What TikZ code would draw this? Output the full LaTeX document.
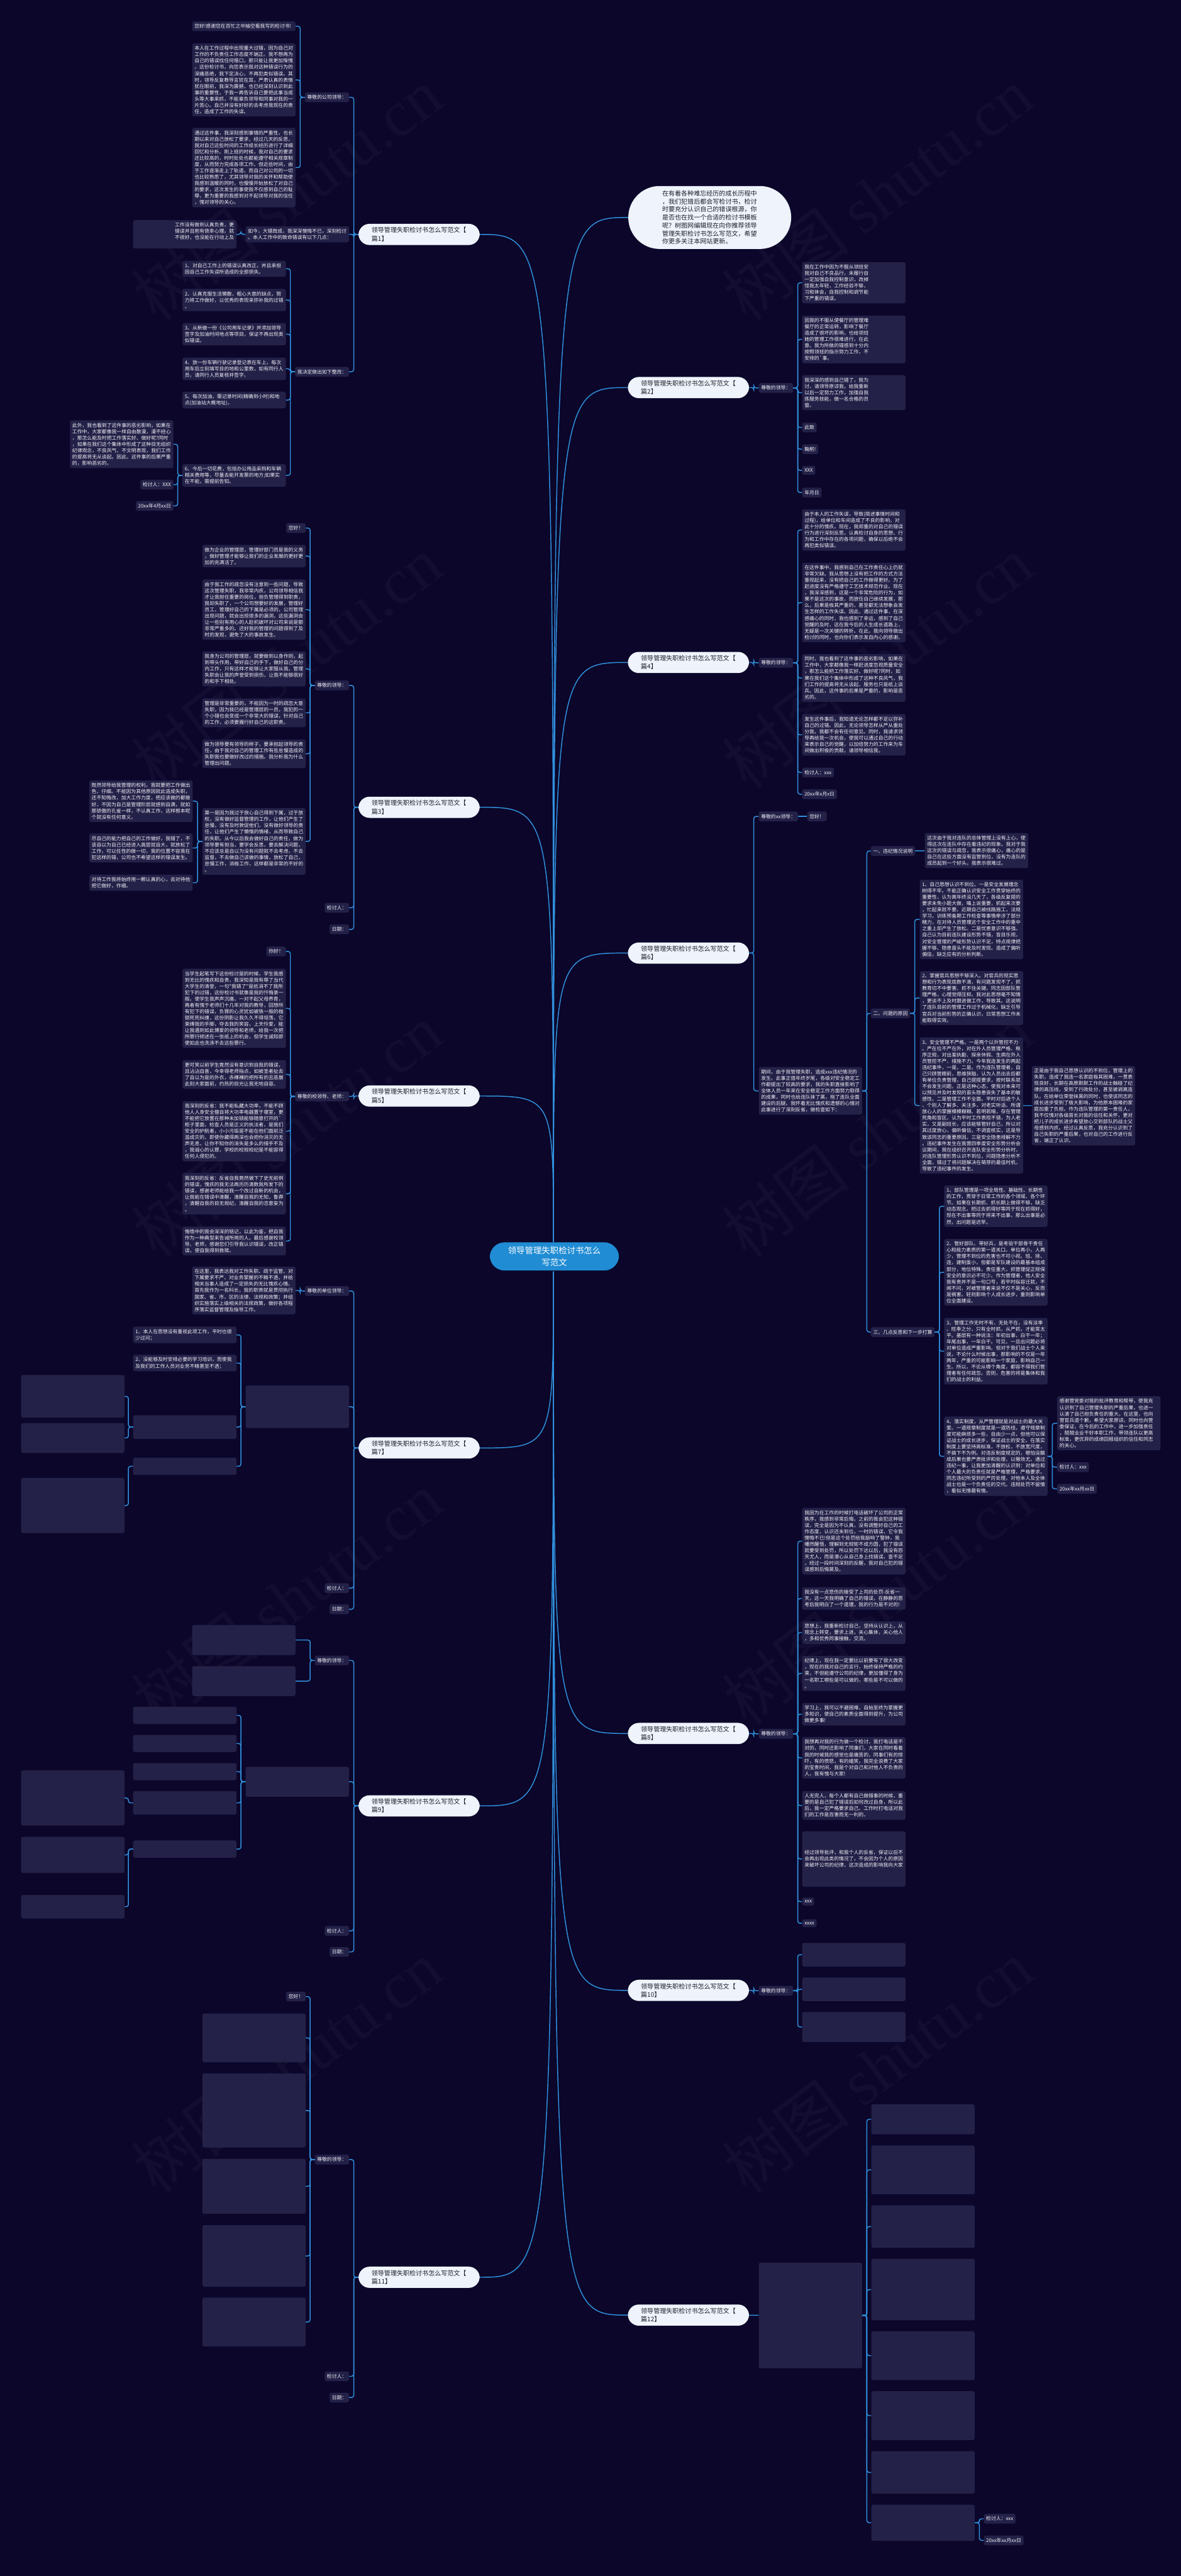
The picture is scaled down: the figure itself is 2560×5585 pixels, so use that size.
\documentclass[tikz,border=0pt]{standalone}
\usepackage{fontspec}
\usepackage{tikz}
\newfontfamily\cjk{Noto Sans CJK SC}
\newfontfamily\wmlatin{Liberation Serif}
\definecolor{bgc}{HTML}{0B062A}
\definecolor{leafc}{HTML}{242148}
\definecolor{leaftext}{HTML}{F2F2F7}
\definecolor{linec}{HTML}{3090DC}
\definecolor{palec}{HTML}{EEF3FC}
\definecolor{darktext}{HTML}{1E1E28}
\definecolor{rootc}{HTML}{208CD4}
\newcommand{\leaffont}{\cjk\fontsize{7.6pt}{9.74pt}\selectfont}
\newcommand{\pianfont}{\cjk\fontsize{9.74pt}{12.8pt}\selectfont}
\newcommand{\rootfont}{\cjk\fontsize{13pt}{17.8pt}\selectfont}
\tikzset{
  base/.style={fill=leafc, text=leaftext, rounded corners=1mm, inner xsep=1.25mm, inner ysep=1.4mm, font=\leaffont, align=left},
  leaf/.style={base, text width=53.5mm},
  blk/.style={leaf, minimum height={(#1*13.7+10)*0.25mm}},
  pian/.style={fill=palec, text=darktext, rounded corners=6mm, inner xsep=7.1mm, inner ysep=1.9mm, text width=51.5mm, align=left, font=\pianfont},
  link/.style={draw=linec, line width=0.5mm, rounded corners=1.2mm},
  trunk/.style={draw=linec, line width=0.5mm},
  wm/.style={text=white, opacity=0.035, anchor=base west, rotate=37, inner sep=0pt, font=\cjk\fontsize{100pt}{100pt}\selectfont}
}
% 连线
\newcommand{\linkR}[2]{\draw[link] (#1.east) -- ++(10,0) |- (#2.west);}
\newcommand{\linkL}[2]{\draw[link] (#1.west) -- ++(-10,0) |- (#2.east);}
\newcommand{\trunk}[2]{\draw[trunk] (#1) .. controls (#1 |- #2) .. (#2);}
\begin{document}
\begin{tikzpicture}[x=0.25mm, y=-0.25mm]
\fill[bgc] (0,0) rectangle (2560,5585);
\useasboundingbox (0,0) rectangle (2560,5585);

% 水印
\foreach \k in {0,...,4} {
  \node[wm] (wmL\k) at (340,700+1015*\k) {树图 {\wmlatin shutu.cn}};
  \node[wm] (wmR\k) at (1620,700+1015*\k) {树图 {\wmlatin shutu.cn}};
}

% 中心主题
\node[fill=rootc, text=white, rounded corners=8mm, minimum width=70mm, inner ysep=2.4mm, align=center, font=\rootfont] (rt) at (1202,2724) {领导管理失职检讨书怎么\\写范文};
\coordinate (rtN) at (1200,2692);
\coordinate (rtS) at (1200,2757);

\node[fill=palec, text=darktext, rounded corners=17mm, inner xsep=18.4mm, inner ysep=2.5mm, text width=51.5mm, align=left, font=\cjk\fontsize{9.74pt}{12.3pt}\selectfont, anchor=north west] (intro) at (1362,403) {在有着各种难忘经历的成长历程中\\，我们犯错后都会写检讨书，检讨\\时要充分认识自己的错误根源，你\\是否也在找一个合适的检讨书模板\\呢？树图网编辑现在向你推荐领导\\管理失职检讨书怎么写范文，希望\\你更多关注本网站更新。};

% 篇1
\node[pian, anchor=north west] (L1) at (777,485) {领导管理失职检讨书怎么写范文【\\篇1】};
\node[base, anchor=east] (s1a) at (757,211) {尊敬的公司领导：};
\node[leaf, anchor=east] (s1b) at (757,508) {如今，大错既成，我深深懊悔不已，深刻检讨\\。本人工作中的致命错误有以下几点：};
\node[base, anchor=east] (s1c) at (757,806) {我决定做出如下整改：};
\node[leaf, anchor=north east] (p1a1) at (641,46) {您好!感谢您在百忙之中抽空看我写的检讨书!};
\node[leaf, anchor=north east] (p1a2) at (641,94) {本人在工作过程中出现重大过错，因为自己对\\工作的不负责任工作态度不端正。我不想再为\\自己的错误找任何借口，那只能让我更加惭愧\\。这份检讨书，向您表示我对这种错误行为的\\深痛恶绝，我下定决心，不再犯类似错误。其\\时，领导反复教导言犹在耳，严肃认真的表情\\犹在眼前，我深为震撼，也已经深刻认识到此\\事的重要性，于我一再告诉自己要把此事当成\\头等大事来抓，不能辜负领导和同事对我的一\\片苦心。自己并没有好好的去考虑我现在的责\\任，造成了工作的失误。};
\node[leaf, anchor=north east] (p1a3) at (641,277) {通过这件事，我深刻感到事情的严重性，也长\\期以来对自己放松了要求，经过几天的反思，\\我对自己这些时间的工作成长经历进行了详细\\回忆和分析。刚上班的时候，我对自己的要求\\还比较高的，时时处处也都能遵守相关规章制\\度，从而努力完成各项工作。但近些时间，由\\于工作逐渐走上了轨道，而自己对公司的一切\\也比较熟悉了，尤其领导对我的关怀和帮助使\\我感到温暖的同时，也慢慢开始放松了对自己\\的要求，这次发生的事使我不仅感到自己的耻\\辱，更为重要的我感到对不起领导对我的信任\\，愧对领导的关心。};
\node[leaf, anchor=east] (p1b1) at (513,508) {\phantom{一二三四五六七八}工作没有做到认真负责，更\\\phantom{一二三四五六七八}错误并且抱有侥幸心理。就\\\phantom{一二三四五六七八}不很好，也没能在行动上及\\\phantom{一}};
\node[leaf, anchor=north east] (p1c1) at (620,565) {1、对自己工作上的错误认真改正，并且承担\\因自己工作失误所造成的全部损失。};
\node[leaf, anchor=north east] (p1c2) at (620,626) {2、认真克服生活懒散、粗心大意的缺点，努\\力将工作做好，以优秀的表现来弥补我的过错\\。};
\node[leaf, anchor=north east] (p1c3) at (620,700) {3、从新做一份《公司用车记录》并添加领导\\签字及加油时间地点等项目，保证不再出现类\\似错误。};
\node[leaf, anchor=north east] (p1c4) at (620,775) {4、放一份车辆行驶记录登记表在车上，每次\\用车后立刻填写目的地和公里数，如有同行人\\员，请同行人员复核并签字。};
\node[leaf, anchor=north east] (p1c5) at (620,849) {5、每次加油，需记录时间(精确到小时)和地\\点(加油站大概地址)。};
\node[leaf, anchor=north east] (p1c6) at (620,1006) {6、今后一切花费，包括办公用品采购和车辆\\相关费用等，尽量去能开发票的地方;如果实\\在不能，需提前告知。};
\node[leaf, anchor=north east] (p1d1) at (376,911) {此外，我也看到了这件事的恶劣影响，如果在\\工作中，大家都像我一样自由散漫，漫不经心\\，那怎么能及时把工作落实好、做好呢?同时\\，如果在我们这个集体中形成了这种目无组织\\纪律观念，不良风气、不文明表现，我们工作\\的提高将无从谈起。因此，这件事的后果严重\\的，影响恶劣的。};
\node[base, anchor=north east] (p1d2) at (376,1040) {检讨人：XXX};
\node[base, anchor=north east] (p1d3) at (376,1086) {20xx年4月xx日};
\foreach \c in {a,b,c} {\linkL{L1}{s1\c}}
\foreach \c in {1,2,3} {\linkL{s1a}{p1a\c}}
\linkL{s1b}{p1b1}
\foreach \c in {1,...,6} {\linkL{s1c}{p1c\c}}
\foreach \c in {1,2,3} {\linkL{p1c6}{p1d\c}}

% 篇3
\node[pian, anchor=north west] (L3) at (777,1727) {领导管理失职检讨书怎么写范文【\\篇3】};
\node[base, anchor=east] (s3a) at (757,1486) {尊敬的领导：};
\node[base, anchor=east] (s3b) at (757,1968) {检讨人：};
\node[base, anchor=east] (s3c) at (757,2015) {日期：};
\node[base, anchor=north east] (p3a1) at (663,1134) {您好！};
\node[leaf, anchor=north east] (p3a2) at (663,1181) {做为企业的管理层，管理好部门员是我的义务\\，做好管理才能够让我们的企业发展的更好更\\加的充满活了。};
\node[leaf, anchor=north east] (p3a3) at (663,1256) {由于我工作的疏忽没有注意到一些问题，导致\\这次管理失职，我非常内疚，公司领导相信我\\才让我担任重要的岗位，担负管理得到职责，\\我却失职了，一个公司想要好的发展，管理好\\员工，管理好自己的下属是必须的，公司管理\\出现问题，就会出现很多的漏洞，这些漏洞会\\让一些别有用心的人趁机破坏对公司来说是额\\非常严重多的。还好我的管理的问题得到了及\\时的发现，避免了大的事故发生。};
\node[leaf, anchor=north east] (p3a4) at (663,1412) {我身为公司的管理层，就要做到以身作则，起\\到带头作用，带好自己的手下，做好自己的分\\内工作，只有这样才能够让大家服从我，管理\\失职会让我的声誉受到损伤，让我不能够很好\\的和手下相处。};
\node[leaf, anchor=north east] (p3a5) at (663,1514) {管理是非常重要的，不能因为一时的疏忽大意\\失职，因为我已经是管理层的一员，我犯的一\\个小错也会变成一个非常大的错误，针对自己\\的工作，必须要履行好自己的这职责。};
\node[leaf, anchor=north east] (p3a6) at (663,1603) {做为领导要有领导的样子，要承担起领导的责\\任，由于我对自己的管理工作有些怠慢造成的\\失职我也要做好改过的措施。我分析我为什么\\管理出问题。};
\node[leaf, anchor=north east] (p3a7) at (663,1752) {第一是因为我过于放心自己得到下属，过于放\\权，没有做好监督管理的工作，让他们产生了\\怠慢，没有及时敦促他们，没有做好领导的责\\任，让他们产生了懒惰的情绪，从而导致自己\\的失职。从今以后我会做好自己的责任，做为\\领导要有担当，要学会反思，要去解决问题，\\不应该总是自以为没有问题就不去考虑，不去\\监督，不去做自己该做的事情，放松了自己，\\怠慢工作，消极工作，这样都是非常的不好的\\。};
\node[leaf, anchor=north east] (p3b1) at (418,1692) {既然领导给我管理的权利，我就要把工作做出\\色，仔细。不能因为其他原因就此造成失职，\\还不知悔改，加大工作力度，把应该做的都做\\好，不因为自己是管理阶层就感到自满，就如\\那骄傲的孔雀一样，不认真工作，这样根本呢\\个就没有任何意义。};
\node[leaf, anchor=north east] (p3b2) at (418,1807) {尽自己的能力把自己的工作做好，我错了，不\\该自以为自己已经进入高层就自大，就放松了\\工作，可以任性的做一切，我的位置不容我在\\犯这样的错，公司也不希望这样的错误发生。};
\node[leaf, anchor=north east] (p3b3) at (418,1896) {对待工作我将始终用一颗认真的心，去对待他\\把它做好，作细。};
\foreach \c in {a,b,c} {\linkL{L3}{s3\c}}
\foreach \c in {1,...,7} {\linkL{s3a}{p3a\c}}
\foreach \c in {1,2,3} {\linkL{p3a7}{p3b\c}}

% 篇5
\node[pian, anchor=north west] (L5) at (777,2353) {领导管理失职检讨书怎么写范文【\\篇5】};
\node[base, anchor=east] (s5a) at (757,2377) {尊敬的校领导、老师：};
\node[base, anchor=north east] (p5a1) at (620,2052) {你好！};
\node[leaf, anchor=north east] (p5a2) at (620,2100) {当学生起笔写下这份检讨是的时候，学生我感\\到无比的愧疚和自责，我深知是我有辱了当代\\大学生的清誉，一句"我错了"是抵消不了我所\\犯下的过错，这份检讨书就像是我的忏悔录一\\般，使学生我声声沉痛，一对不起父母养育，\\再者有愧于老师们十几年对我的教导，回想所\\有犯下的错误，负罪的心灵犹如被铁一般的枷\\锁死死纠缠，这份阴影让我久久不得坦荡，它\\束缚我的手脚，夺去我的笑容。上天怜爱，能\\让我遇到如此博爱的领导和老师，给我一次把\\所罪行倾述在一张纸上的机会，但学生诚知即\\使如此也洗涤不去这些罪行。};
\node[leaf, anchor=north east] (p5a3) at (620,2298) {更可笑以前学生竟然没有意识到自我的错误，\\且沾沾自喜，今幸得老师指点，如被圣者扯去\\了自以为是的外衣，赤裸裸的把所有的丑恶展\\此刻大家面前，灼热的目光让我无地自容。};
\node[leaf, anchor=north east] (p5a4) at (620,2387) {我深刻的反省：我不能私藏大功率，不能不顾\\他人人身安全擅自将大功率电器置于寝室，更\\不能把它放置在那种未加锁能够随意打开的`\\柜子里面，检查人员是正义的执法者，是我们\\安全的护航者，小小污垢是不能在他们面前泛\\滥成灾的，即使你藏得再深也会把你消灭的无\\声无息，让你不知你的消失是多么的措手不及\\，我诚心的认罪，学校的校规校纪是不能容得\\任何人侵犯的。};
\node[leaf, anchor=north east] (p5a5) at (620,2543) {我深刻的反省：反省自我竟然做下了史无前例\\的错误，愧疚的我无法再历历清数我所发下的\\错误，感谢老师能给我一个改过自新的机会，\\让我能在错误中清醒，清醒自我的无知，鲁莽\\，清醒自我的目无规纪，清醒自我的恣意妄为\\。};
\node[leaf, anchor=north east] (p5a6) at (620,2659) {悔悟中的我会深深的铭记，以此为鉴，把自我\\作为一种典型来告诫所用的人。最后感谢校领\\导、老师，感谢您们引导我认识错误，改正错\\误，使自我得到救赎。};
\linkL{L5}{s5a}
\foreach \c in {1,...,6} {\linkL{s5a}{p5a\c}}

% 篇7
\node[pian, anchor=north west] (L7) at (777,3116) {领导管理失职检讨书怎么写范文【\\篇7】};
\node[base, anchor=east] (s7a) at (757,2799) {尊敬的单位领导：};
\node[blk=6, anchor=east] (s7b) at (757,3050) {};
\node[base, anchor=east] (s7c) at (757,3443) {检讨人：};
\node[base, anchor=east] (s7d) at (757,3489) {日期：};
\node[leaf, anchor=north east] (p7a1) at (641,2746) {在这里，我表达我对工作失职、疏于监管、对\\下属要求不严、对业务掌握的不精不透，并给\\相关当事人造成了一定损失的无比愧疚心情。\\首先我作为一名科长，我的职责就是贯彻执行\\国家、省、市、区的法律、法规和政策；并组\\织实施落实上级相关的法规政策，做好各项程\\序落实监督管理及指导工作。};
\node[leaf, anchor=north east] (p7b1) at (513,2876) {1、本人在思想没有重视此项工作，平时也很\\少过问；};
\node[leaf, anchor=north east] (p7b2) at (513,2937) {2、没能够及时安排必要的学习培训，而使我\\及我们的工作人员对业务不精甚至不透；};
\node[blk=3, anchor=north east] (p7b3) at (513,3068) {};
\node[blk=2, anchor=north east] (p7b4) at (513,3160) {};
\node[blk=6, anchor=north east] (p7c1) at (270,2981) {};
\node[blk=4, anchor=north east] (p7c2) at (270,3085) {};
\node[blk=8, anchor=north east] (p7c3) at (270,3204) {};
\foreach \c in {a,b,c,d} {\linkL{L7}{s7\c}}
\linkL{s7a}{p7a1}
\foreach \c in {1,...,4} {\linkL{s7b}{p7b\c}}
\foreach \c in {1,2} {\linkL{p7b3}{p7c\c}}
\linkL{p7b4}{p7c3}

% 篇9
\node[pian, anchor=north west] (L9) at (777,3892) {领导管理失职检讨书怎么写范文【\\篇9】};
\node[base, anchor=east] (s9a) at (757,3600) {尊敬的领导：};
\node[blk=4, anchor=east] (s9b) at (757,3863) {};
\node[base, anchor=east] (s9c) at (757,4186) {检讨人：};
\node[base, anchor=east] (s9d) at (757,4232) {日期：};
\node[blk=4, anchor=north east] (p9a1) at (641,3523) {};
\node[blk=4, anchor=north east] (p9a2) at (641,3612) {};
\node[blk=2, anchor=north east] (p9b1) at (513,3700) {};
\node[blk=2, anchor=north east] (p9b2) at (513,3761) {};
\node[blk=2, anchor=north east] (p9b3) at (513,3822) {};
\node[blk=3, anchor=north east] (p9b4) at (513,3883) {};
\node[blk=2, anchor=north east] (p9b5) at (513,3990) {};
\node[blk=8, anchor=north east] (p9c1) at (270,3838) {};
\node[blk=5, anchor=north east] (p9c2) at (270,3982) {};
\node[blk=3, anchor=north east] (p9c3) at (270,4108) {};
\foreach \c in {a,b,c,d} {\linkL{L9}{s9\c}}
\foreach \c in {1,2} {\linkL{s9a}{p9a\c}}
\foreach \c in {1,...,5} {\linkL{s9b}{p9b\c}}
\linkL{p9b4}{p9c1}
\foreach \c in {2,3} {\linkL{p9b5}{p9c\c}}

% 篇11
\node[pian, anchor=north west] (L11) at (777,4914) {领导管理失职检讨书怎么写范文【\\篇11】};
\node[base, anchor=east] (s11a) at (757,4682) {尊敬的领导：};
\node[base, anchor=east] (s11b) at (757,5152) {检讨人：};
\node[base, anchor=east] (s11c) at (757,5198) {日期：};
\node[base, anchor=north east] (p11a1) at (663,4318) {您好！};
\node[blk=7, anchor=north east] (p11a2) at (663,4365) {};
\node[blk=11, anchor=north east] (p11a3) at (663,4495) {};
\node[blk=8, anchor=north east] (p11a4) at (663,4680) {};
\node[blk=9, anchor=north east] (p11a5) at (663,4824) {};
\node[blk=7, anchor=north east] (p11a6) at (663,4981) {};
\foreach \c in {a,b,c} {\linkL{L11}{s11\c}}
\foreach \c in {1,...,6} {\linkL{s11a}{p11a\c}}

% 篇2
\node[pian, anchor=north west] (L2) at (1361,817) {领导管理失职检讨书怎么写范文【\\篇2】};
\node[base, anchor=west] (s2a) at (1645,841) {尊敬的领导：};
\node[leaf, anchor=north west] (p2a1) at (1739,568) {我在工作中因为不服从领班安\\我对自己不良品行，未履行自\\一定加强自我控制意识，改掉\\怪我太年轻，工作经验不够，\\习和体会，自我控制和调节能\\下严重的错误。};
\node[leaf, anchor=north west] (p2a2) at (1739,684) {因我的不服从使餐厅的管理难\\餐厅的正常运转，影响了餐厅\\造成了很坏的影响，也给领班\\她的管理工作很难进行，在此\\意。我为所做的错感到十分内\\按照领班的指示努力工作，不\\安排的`事。};
\node[leaf, anchor=north west] (p2a3) at (1739,813) {我深深的感到自己错了，我为\\讨，请领导原谅我，给我重新\\以后一定努力工作，加强自我\\炼服务技能，做一名合格的员\\督。};
\node[base, anchor=north west] (p2a4) at (1739,916) {此致};
\node[base, anchor=north west] (p2a5) at (1739,963) {鞠躬!};
\node[base, anchor=north west] (p2a6) at (1739,1010) {XXX};
\node[base, anchor=north west] (p2a7) at (1739,1057) {年月日};
\linkR{L2}{s2a}
\foreach \c in {1,...,7} {\linkR{s2a}{p2a\c}}

% 篇4
\node[pian, anchor=north west] (L4) at (1361,1413) {领导管理失职检讨书怎么写范文【\\篇4】};
\node[base, anchor=west] (s4a) at (1645,1437) {尊敬的领导：};
\node[leaf, anchor=north west] (p4a1) at (1739,1104) {由于本人的工作失误，导致(简述事情时间和\\过程)，给单位和车间造成了不良的影响，对\\此十分的愧疚。现在，我郑重的对自己的错误\\行为进行深刻反思，认真检讨自身的思想、行\\为和工作中存在的各项问题，确保以后绝不会\\再犯类似错误。};
\node[leaf, anchor=north west] (p4a2) at (1739,1220) {在这件事中，我感到自己在工作责任心上仍就\\非常欠缺。我从思想上没有把工作的方式方法\\重视起来，没有把自己的工作做得更好。为了\\赶进度没有严格遵守工艺技术规范作业。现在\\，我深深感到，这是一个非常危险的行为，如\\果不是这次的事故，而放任自己继续发展，那\\么，后果是极其严重的，甚至都无法想象会发\\生怎样的工作失误。因此，通过这件事，在深\\感痛心的同时，我也感到了幸运，感到了自己\\觉醒的及时，这在我今后的人生成长道路上，\\无疑是一次关键的转折。在此，我向领导做出\\检讨的同时，也向你们表示发自内心的感谢。};
\node[leaf, anchor=north west] (p4a3) at (1739,1418) {同时，我也看到了这件事的恶劣影响，如果在\\工作中，大家都像我一样赶进度忽视质量安全\\，那怎么能把工作落实好、做好呢?同时，如\\果在我们这个集体中形成了这种不良风气，我\\们工作的提高将无从谈起，服务也只是纸上谈\\兵。因此，这件事的后果是严重的，影响是恶\\劣的。};
\node[leaf, anchor=north west] (p4a4) at (1739,1548) {发生这件事后，我知道无论怎样都不足以弥补\\自己的过错。因此，无论领导怎样从严从重处\\分我，我都不会有任何意见。同时，我请求领\\导再给我一次机会，使我可以通过自己的行动\\来表示自己的觉醒，以加倍努力的工作来为车\\间做出积极的贡献，请领导相信我。};
\node[base, anchor=north west] (p4a5) at (1739,1664) {检讨人：xxx};
\node[base, anchor=north west] (p4a6) at (1739,1711) {20xx年x月x日};
\linkR{L4}{s4a}
\foreach \c in {1,...,6} {\linkR{s4a}{p4a\c}}

% 篇6
\node[pian, anchor=north west] (L6) at (1361,2043) {领导管理失职检讨书怎么写范文【\\篇6】};
\node[base, anchor=west] (s6a) at (1645,1770) {尊敬的xx领导：};
\node[base, anchor=west] (p6a1) at (1750,1770) {您好！};
\node[leaf, anchor=north west] (s6b) at (1645,2313) {期间，由于我管理失职，造成xxx违纪情况的\\发生。此事正值年终岁尾，各级对安全稳定工\\作都提出了较高的要求，我的失职直接影响了\\全体人员一年来在安全稳定工作方面努力取得\\的成果，同时也给连队抹了黑，拖了连队全面\\建设的后腿。我怀着无比愧疚和遗憾的心情对\\此事进行了深刻反省，做检查如下：};
\node[base, anchor=west] (t6a) at (1888,1845) {一、违纪情况说明};
\node[base, anchor=west] (t6b) at (1888,2197) {二、问题的原因};
\node[base, anchor=west] (t6c) at (1888,2888) {三、几点反思和下一步打算};
\node[leaf, anchor=north west] (p6a) at (2005,1806) {这次由于我对连队的总体管理上没有上心，使\\得这次在连队中存在着违纪的现象。我对于我\\这次的错误与疏忽，我表示很痛心，痛心的是\\自己在这些方面没有监管到位，没有为连队的\\成员起到一个好头。我表示很难过。};
\node[leaf, anchor=north west] (p6b1) at (1994,1907) {1、自己思想认识不到位。一是安全发展理念\\树得不牢。不能正确认识安全工作贯穿始终的\\重要性，认为离年终没几天了，各级反复提的\\要求未免小题大做，嘴上说重要，抓起来次要\\，忙起来就不要。近期自己被线路施工，法规\\学习，训练预备期工作检查等事情牵涉了部分\\精力，在对待人员管理这个安全工作中的重中\\之重上却产生了放松。二是忧患意识不够强。\\自己认为目前连队建设形势不错，盲目乐观，\\对安全管理的严峻形势认识不足，特点规律把\\握不够、隐患苗头不能及时发现。造成了偏听\\偏信，缺乏应有的分析判断。};
\node[leaf, anchor=north west] (p6b2) at (1994,2105) {2、掌握官兵思想不够深入。对官兵的现实思\\想和行为表现底数不清，有问题发现不了，抓\\教育切不中要害、抓不住关键。同志因部队管\\理严格，心理觉得压抑。我对此思想毫不知情\\，更谈不上及时跟进做工作，导致其。这说明\\了连队目前的管理工作过于机械化，缺乏引导\\官兵对当前形势的正确认识，日常思想工作未\\能取得实效。};
\node[leaf, anchor=north west] (p6b3) at (1994,2249) {3、安全管理不严格。一是两个以外管控不力\\。严在位不严在外，对在外人员管理严格、秩\\序正规，对出差执勤、探亲休假、生病在外人\\员管控不严、措施不力。今年我连发生的两起\\违纪事件，一是，二是。作为连队管理者，自\\己只顾管眼前，思维狭隘，认为人员出去后都\\有单位负责管理，自己提提要求，按时联系就\\不会发生问题。正是这种心态，使我对本来可\\以预见并及时发现的苗头隐患丧失了基本的敏\\感性。二是管理工作不全面。平时对后进个人\\、个别人了解多、关注多，对老实听话、所谓\\放心人的掌握模模糊糊、若明若暗，存在管理\\死角和盲区。认为平时工作表现不错，为人老\\实，又是副班长，应该能够管好自己，所以对\\其过度放心，偏听偏信，不调查核实，这是导\\致该同志的重要原因。三是安全隐患排解不力\\。违纪事件发生在我营四季度安全形势分析会\\议期间，我在组织召开连队安全形势分析时，\\对连队管理形势认识不到位，问题隐患分析不\\全面，错过了将问题解决在萌芽的最佳时机，\\导致了违纪事件的发生。};
\node[leaf, anchor=north west] (p6b4) at (2237,2311) {正是由于我自己思想认识的不到位，管理上的\\失职，造成了我连一名家庭极其困难，一贯表\\现良好，长期在高原默默工作的战士触碰了纪\\律的高压线，受到了行政处分，甚至被调离连\\队。在给单位荣誉抹黑的同时，也使该同志的\\成长进步受到了极大影响，为他原本困难的家\\庭加重了负担。作为连队管理的第一责任人，\\我不仅愧对各级首长对我的信任和关怀，更对\\把儿子的成长进步希望放心交到部队的战士父\\母感到内疚。经过认真反思，我充分认识到了\\自己失职的严重后果，也对自己的工作进行反\\省，端正了认识。};
\node[leaf, anchor=north west] (p6c1) at (2047,2570) {1、部队管理是一项全局性、基础性、长期性\\的工作，贯穿于日常工作的各个领域、各个环\\节。如果在长期抓、抓长期上做得不够，缺乏\\动态观念，把过去抓得好等同于现在抓得好，\\现在不出事等同于将来不出事，那么出事是必\\然，出问题是迟早。};
\node[leaf, anchor=north west] (p6c2) at (2047,2686) {2、管好部队、带好兵，是考验干部骨干责任\\心和能力素质的第一道关口。单位再小，人再\\少，管理不到位的危害也不可小视。班、排、\\连，建制虽小，但都是军队建设的最基本组成\\部分，地位特殊，责任重大，抓管理促正规保\\安全的意识必不可少。作为管理者，他人安全\\我有责并不是一句口号，若平时纵容迁就，不\\闻不问，对被管理者来说不仅不是关心，反而\\是祸害。轻则影响个人成长进步，重则影响单\\位全面建设。};
\node[leaf, anchor=north west] (p6c3) at (2047,2857) {3、管理工作无时不有、无处不在，没有淡季\\、旺季之分，只有全时抓，从严抓，才能常太\\平。基层有一种说法：年初出事，白干一年；\\年尾出事，一年白干。可见，一旦出问题必将\\对单位造成严重影响。但对于我们战士个人来\\说，不论什么时候出事，那影响的不仅是一年\\两年，严重的可能影响一个家庭，影响自己一\\生。所以，不论从哪个角度，都容不得我们管\\理者有任何疏忽。否则，危害的将是集体和我\\们的战士的利益。};
\node[leaf, anchor=north west] (p6c4) at (2047,3071) {4、落实制度，从严管理就是对战士的最大关\\爱。一道规章制度就是一道防线，遵守规章制\\度可能麻烦多一些，自由少一点，但他可以保\\证战士的成长进步，保证战士的安全。在落实\\制度上要坚持高标准，不放松，不放宽尺度，\\不搞下不为例。对违反制度规定的，哪怕没酿\\成后果也要严肃批评和处理，以儆效尤。通过\\违纪一事，让我更加清醒的认识到：对单位和\\个人最大的负责任就是严格管理，严格要求。\\同志违纪所受到的严厉处理，对他本人及全体\\战士也是一个负责任的交代。违规处罚不留情\\，看似无情最有情。};
\node[leaf, anchor=north west] (p6d1) at (2292,3027) {感谢营党委对我的批评教育和帮带，使我充\\认识到了自己管理失职的严重后果，也进一\\认清了自己担负责任的重大。在这里，也向\\营官兵道个歉，希望大家原谅。同时也向营\\委保证，在今后的工作中，进一步加强责任\\，兢兢业业干好本职工作，带领连队以更高\\标准，更优异的成绩回报组织的信任和同志\\的关心。};
\node[base, anchor=north west] (p6d2) at (2292,3170) {检讨人：xxx};
\node[base, anchor=north west] (p6d3) at (2292,3217) {20xx年xx月xx日};
\linkR{L6}{s6a}
\linkR{L6}{s6b}
\draw[link] (s6a) -- (p6a1);
\foreach \c in {a,b,c} {\linkR{s6b}{t6\c}}
\draw[link] (t6a) -- (p6a);
\foreach \c in {1,2,3} {\linkR{t6b}{p6b\c}}
\draw[link] (p6b3) -- (p6b4);
\foreach \c in {1,...,4} {\linkR{t6c}{p6c\c}}
\foreach \c in {1,2,3} {\linkR{p6c4}{p6d\c}}

% 篇8
\node[pian, anchor=north west] (L8) at (1361,3735) {领导管理失职检讨书怎么写范文【\\篇8】};
\node[base, anchor=west] (s8a) at (1645,3759) {尊敬的领导：};
\node[leaf, anchor=north west] (p8a1) at (1739,3269) {我因为在工作的时候打电话破坏了公司的正常\\秩序，我感到非常后悔，之前的我会犯这种错\\误，完全是因为不认真，没有调整好自己的工\\作态度，认识还未到位，一时的错误，它令我\\懊悔不已!但是这个处罚给我敲响了警钟，我\\幡然醒悟，理解到无规矩不成方圆，犯了错误\\就要受到处罚，所以处罚下达以后，我没有怨\\天尤人，而是潜心从自己身上找错误，查不足\\，经过一段时间深刻的反醒，我对自己犯的错\\误感到后悔莫及。};
\node[leaf, anchor=north west] (p8a2) at (1739,3441) {我没有一点悲伤的接受了上司的处罚-反省一\\天，这一天我明确了自己的错误，在静静的思\\考后我明白了一个道理，我的行为是不对的!};
\node[leaf, anchor=north west] (p8a3) at (1739,3515) {思想上，我重新检讨自己，坚持从认识上，从\\观念上转变，要求上进，关心集体，关心他人\\，多和优秀同事接触，交流。};
\node[leaf, anchor=north west] (p8a4) at (1739,3590) {纪律上，现在我一定要比以前要有了很大改变\\，现在的我对自己的言行，始终保持严格的约\\束，不但能遵守公司的纪律，更加懂得了身为\\一名职工哪些是可以做的，哪些是不可以做的\\。};
\node[leaf, anchor=north west] (p8a5) at (1739,3692) {学习上，我可以不避困难，自始至终为掌握更\\多知识，使自己的素质全面得到提升，为公司\\做更多事!};
\node[leaf, anchor=north west] (p8a6) at (1739,3766) {我想再对我的行为做一个检讨，我打电话是不\\对的，同时还影响了同事们，大家在同时看着\\我的时候我的感觉也是痛苦的，同事们有的惊\\吓，有的愤怒，有的嬉笑，我完全浪费了大家\\的宝贵时间，我是个对自己和对他人不负责的\\人，我有愧与大家!};
\node[leaf, anchor=north west] (p8a7) at (1739,3883) {人无完人，每个人都有自己做错事的时候，重\\要的是自己犯了错误后如何改过自身，所以此\\后，我一定严格要求自己。工作时打电话对我\\们的工作是百害而无一利的。};
\node[leaf, anchor=north west, minimum height=30mm] (p8a8) at (1739,3970) {经过领导批评，和我个人的反省，保证以后不\\会再出现此类的情况了，不会因为个人的原因\\来破坏公司的纪律，这次造成的影响我向大家};
\node[base, anchor=north west] (p8a9) at (1739,4114) {xxx};
\node[base, anchor=north west] (p8a10) at (1739,4161) {xxxx};
\linkR{L8}{s8a}
\foreach \c in {1,...,10} {\linkR{s8a}{p8a\c}}

% 篇10
\node[pian, anchor=north west] (L10) at (1361,4292) {领导管理失职检讨书怎么写范文【\\篇10】};
\node[base, anchor=west] (s10a) at (1645,4316) {尊敬的领导：};
\node[blk=3, anchor=north west] (p10a1) at (1739,4212) {};
\node[blk=3, anchor=north west] (p10a2) at (1739,4287) {};
\node[blk=4, anchor=north west] (p10a3) at (1739,4362) {};
\linkR{L10}{s10a}
\foreach \c in {1,2,3} {\linkR{s10a}{p10a\c}}

% 篇12
\node[pian, anchor=north west] (L12) at (1361,4996) {领导管理失职检讨书怎么写范文【\\篇12】};
\node[blk=16, anchor=west] (s12a) at (1645,5020) {};
\node[blk=4, anchor=north west] (p12a1) at (1889,4562) {};
\node[blk=7, anchor=north west] (p12a2) at (1889,4651) {};
\node[blk=6, anchor=north west] (p12a3) at (1889,4781) {};
\node[blk=9, anchor=north west] (p12a4) at (1889,4897) {};
\node[blk=7, anchor=north west] (p12a5) at (1889,5054) {};
\node[blk=7, anchor=north west] (p12a6) at (1889,5184) {};
\node[blk=6, anchor=north west] (p12a7) at (1889,5314) {};
\node[blk=5, anchor=north west] (p12a8) at (1889,5430) {};
\node[base, anchor=north west] (p12b1) at (2133,5450) {检讨人：xxx};
\node[base, anchor=north west] (p12b2) at (2133,5497) {20xx年xx月xx日};
\draw[link] (L12) -- (s12a);
\foreach \c in {1,...,8} {\linkR{s12a}{p12a\c}}
\foreach \c in {1,2} {\linkR{p12a8}{p12b\c}}

% 主干
\trunk{rtN}{intro.west}
\foreach \n in {2,4,6} {\trunk{rtN}{L\n.west}}
\foreach \n in {8,10,12} {\trunk{rtS}{L\n.west}}
\foreach \n in {1,3,5} {\trunk{rtN}{L\n.east}}
\foreach \n in {7,9,11} {\trunk{rtS}{L\n.east}}
\end{tikzpicture}
\end{document}
